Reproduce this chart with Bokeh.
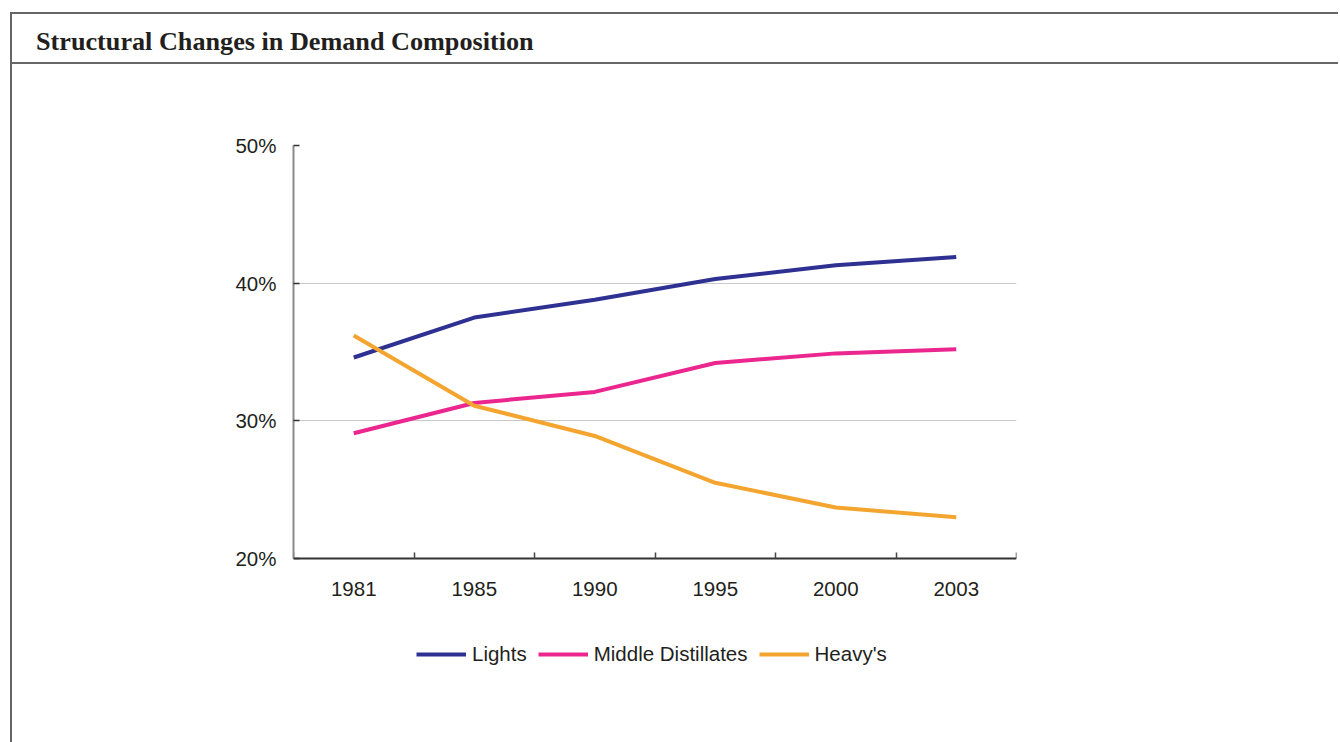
from bokeh.plotting import figure
from bokeh.models import Range1d, FixedTicker, PrintfTickFormatter, Legend, LegendItem, Div
from bokeh.layouts import column
from bokeh.embed import file_html
from bokeh.resources import INLINE

# ---- data ----
title_text = "Structural Changes in Demand Composition"
years = ["1981", "1985", "1990", "1995", "2000", "2003"]
lights = [34.6, 37.5, 38.8, 40.3, 41.3, 41.9]
middle = [29.1, 31.3, 32.1, 34.2, 34.9, 35.2]
heavy = [36.2, 31.1, 28.9, 25.5, 23.7, 23.0]
series_names = ["Lights", "Middle Distillates", "Heavy's"]
y_ticks = [20, 30, 40, 50]

colors = ["#2e3192", "#ec268f", "#f3a530"]
FONT = "Liberation Sans"
TXT = "#231f20"
BORDER = "2px solid #666666"

# header box with title
header = Div(text=title_text, width=1328, height=52, margin=(12, 0, 0, 10),
             styles={"border-top": BORDER, "border-bottom": BORDER, "border-left": BORDER,
                     "box-sizing": "border-box", "padding": "15px 0 0 24px",
                     "font-family": "Liberation Serif", "font-weight": "bold",
                     "font-size": "26.2px", "line-height": "26px", "color": TXT,
                     "background-color": "white"})

# figure geometry (canvas starts at page x=12, y=64)
W = 1326
CX, CY = 12, 64
FL, FR, FT, FB = 293, 1014, 145, 558   # plot area (20%..50%)
FBX = 672                               # frame extended down to host the legend
y_lo = y_ticks[0] - (y_ticks[-1] - y_ticks[0]) * (FBX - FB) / (FB - FT)

n = len(years)
xs = [i + 0.5 for i in range(n)]

p = figure(frame_width=FR - FL, frame_height=FBX - FT,
           output_backend="svg", toolbar_location=None,
           x_range=Range1d(0, n), y_range=Range1d(y_lo, y_ticks[-1]),
           min_border_left=FL - CX, min_border_right=(CX + W) - FR,
           min_border_top=FT - CY, min_border_bottom=0,
           margin=(0, 0, 0, 10),
           styles={"border-left": BORDER})
p.outline_line_color = None
p.background_fill_color = "white"
p.border_fill_color = "white"

renderers = []
for vals, c in zip([lights, middle, heavy], colors):
    r = p.line(xs, vals, line_width=4, line_color=c, line_join="round")
    renderers.append(r)

# x axis at the 20% baseline: labels at category centres, ticks at boundaries
p.xaxis.fixed_location = y_ticks[0]
p.xaxis.ticker = FixedTicker(ticks=xs, minor_ticks=list(range(n + 1)))
p.xaxis.major_label_overrides = {x: y for x, y in zip(xs, years)}
p.xaxis.major_tick_in = 0
p.xaxis.major_tick_out = 0
p.xaxis.minor_tick_in = 6
p.xaxis.minor_tick_out = 0
p.xaxis.minor_tick_line_color = "#444444"
p.xaxis.minor_tick_line_width = 1.5
p.xaxis.axis_line_color = "#333333"
p.xaxis.axis_line_width = 2
p.xaxis.major_label_standoff = 23
p.xaxis.major_label_text_font = FONT
p.xaxis.major_label_text_font_size = "20.5px"
p.xaxis.major_label_text_color = TXT
p.xgrid.visible = False

p.yaxis.bounds = (y_ticks[0], y_ticks[-1])
p.yaxis.ticker = FixedTicker(ticks=y_ticks, minor_ticks=[])
p.yaxis.formatter = PrintfTickFormatter(format="%d%%")
p.yaxis.major_tick_in = 6
p.yaxis.major_tick_out = 0
p.yaxis.major_tick_line_color = "#333333"
p.yaxis.major_tick_line_width = 1.5
p.yaxis.axis_line_color = "#8a8a8a"
p.yaxis.axis_line_width = 2
p.yaxis.major_label_standoff = 17
p.yaxis.major_label_text_font = FONT
p.yaxis.major_label_text_font_size = "20.5px"
p.yaxis.major_label_text_color = TXT
p.ygrid.grid_line_color = "#c8c8c8"
p.ygrid.grid_line_width = 1

legend = Legend(items=[LegendItem(label=nm, renderers=[r]) for nm, r in zip(series_names, renderers)],
                orientation="horizontal", location=(416 - FL, FBX - 666),
                glyph_width=50, glyph_height=20, label_height=20, label_standoff=6,
                spacing=11, padding=0, margin=0, border_line_color=None,
                background_fill_alpha=0, label_text_font=FONT,
                label_text_font_size="20.5px", label_text_color=TXT)
p.add_layout(legend)

spacer = Div(text="", width=20, height=120, margin=(0, 0, 0, 10),
             styles={"border-left": BORDER})

layout = column(header, p, spacer)
open("out.html", "w").write(file_html(layout, INLINE))
